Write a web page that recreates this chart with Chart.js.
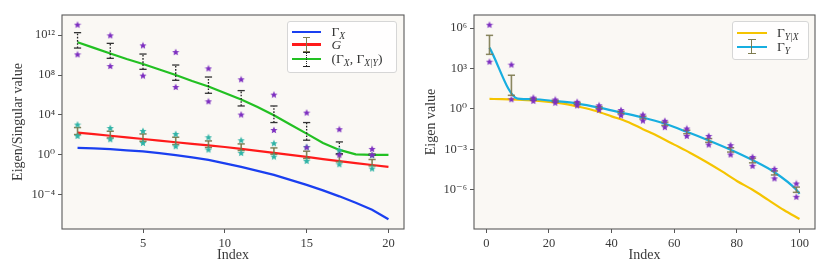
<!DOCTYPE html>
<html>
<head>
<meta charset="utf-8">
<script src="https://cdn.jsdelivr.net/npm/chart.js@4.4.1/dist/chart.umd.min.js"></script>
<style>
  html,body{margin:0;padding:0;background:#fff;}
  #wrap{position:relative;width:830px;height:277px;overflow:hidden;font-family:"Liberation Serif","DejaVu Serif",serif;color:#333;}
  canvas{position:absolute;top:0;}
  .leg{position:absolute;border:1px solid #d6d6d6;border-radius:3px;background:rgba(255,255,255,0.85);box-sizing:border-box;}
  .h{position:absolute;height:2.4px;}
  .t{position:absolute;font-size:13.5px;line-height:14px;white-space:nowrap;transform:translateY(-50%);}
  .t sub{font-size:9.5px;vertical-align:-3px;line-height:0;font-style:italic;}
  .t i{font-style:italic;}
  .eb{position:absolute;}
</style>
</head>
<body>
<div id="wrap">
  <canvas id="c1" width="415" height="277" style="left:0"></canvas>
  <canvas id="c2" width="415" height="277" style="left:415px"></canvas>
</div>
<script>
// ---------------- data (values stored as log10 of the plotted quantity) ----------------
// Left panel
const leftIndex = [1,2,3,4,5,6,7,8,9,10,11,12,13,14,15,16,17,18,19,20];
const gammaXLog = [0.70,0.66,0.57,0.46,0.35,0.18,-0.02,-0.25,-0.50,-0.85,-1.20,-1.60,-2.00,-2.50,-3.00,-3.55,-4.15,-4.80,-5.50,-6.45];
const gLog      = [2.24,2.08,1.92,1.76,1.59,1.43,1.27,1.11,0.95,0.79,0.60,0.40,0.20,0.00,-0.20,-0.42,-0.62,-0.82,-1.01,-1.20];
const jointLog  = [11.28,10.72,10.15,9.60,9.10,8.55,8.00,7.40,6.85,6.20,5.55,4.80,3.97,3.05,2.13,1.20,0.50,0.06,0.00,0.00];
const errIndexLeft = [1,3,5,7,9,11,13,15,17,19];
// G error bars (olive) and sample stars (teal)
const gErrHi   = [2.74,2.37,2.10,1.77,1.40,1.10,0.70,0.37,0.04,-0.46];
const gErrLo   = [2.04,1.70,1.37,1.04,0.74,0.44,0.07,-0.36,-0.70,-1.10];
const gStarHi  = [3.04,2.70,2.40,2.10,1.77,1.47,1.17,0.80,0.47,-0.03];
const gStarLo  = [1.90,1.57,1.20,0.87,0.54,0.20,-0.16,-0.60,-0.93,-1.36];
// joint error bars (black dotted) and sample stars (purple)
const jErrHi   = [12.24,11.17,10.10,9.00,7.80,6.44,4.90,3.24,1.30,0.08];
const jErrLo   = [10.70,9.67,8.57,7.47,6.17,4.90,3.24,1.47,0.12,-0.02];
const jStarHi  = [13.04,11.97,10.97,10.30,8.67,7.57,6.04,4.24,2.57,0.60];
const jStarLo  = [10.07,8.90,7.94,6.80,5.37,4.04,2.50,0.77,0.02,0.00];
const leftXTicks = [5,10,15,20];
const leftYTickExp = [-4,0,4,8,12];

// Right panel
const condIndex = [1,5,10,15,20,25,30,35,40,45,50,55,60,65,70,75,80,85,90,95,100];
const condLog   = [0.74,0.73,0.69,0.63,0.53,0.38,0.14,-0.15,-0.55,-0.95,-1.50,-2.05,-2.65,-3.25,-3.90,-4.60,-5.35,-6.00,-6.75,-7.50,-8.17];
const gammaYIndex = [1,10,15,22,29,36,43,50,57,64,71,78,85,92,99,100];
const gammaYLog   = [4.55,0.77,0.72,0.58,0.40,0.10,-0.27,-0.64,-1.10,-1.70,-2.34,-3.03,-3.80,-4.70,-6.00,-6.30];
const errIndexRight = [1,8,15,22,29,36,43,50,57,64,71,78,85,92,99];
const yErrHi  = [5.46,2.50,0.78,0.64,0.47,0.18,-0.18,-0.54,-0.98,-1.58,-2.20,-2.88,-3.65,-4.60,-5.80];
const yErrLo  = [4.05,1.01,0.66,0.52,0.33,0.02,-0.36,-0.74,-1.22,-1.84,-2.48,-3.20,-4.00,-4.90,-6.19];
const yStarHi = [6.25,3.29,0.84,0.70,0.53,0.27,-0.08,-0.42,-0.88,-1.45,-2.00,-2.69,-3.56,-4.45,-5.53];
const yStarLo = [3.51,0.72,0.60,0.46,0.26,-0.07,-0.47,-0.86,-1.35,-2.00,-2.64,-3.38,-4.22,-5.15,-6.52];
const rightXTicks = [0,20,40,60,80,100];
const rightYTickExp = [-6,-3,0,3,6];

// ---------------- helpers ----------------
const FONT = '"Liberation Serif","DejaVu Serif",serif';
const TXT = '#3a3a3a';
const SUP = {'0':'⁰','1':'¹','2':'²','3':'³','4':'⁴','5':'⁵','6':'⁶','7':'⁷','8':'⁸','9':'⁹','-':'⁻'};
const powLabel = e => '10' + String(e).split('').map(c=>SUP[c]).join('');
const pts = (xs, logs) => xs.map((x,k)=>({x, y: Math.pow(10, logs[k])}));
function errSegments(xs, hi, lo){
  const d=[]; xs.forEach((x,k)=>{ d.push({x,y:Math.pow(10,lo[k])},{x,y:Math.pow(10,hi[k])},{x,y:null}); }); return d;
}
function starPts(xs, hi, lo){
  const d=[]; xs.forEach((x,k)=>{ d.push({x,y:Math.pow(10,hi[k])},{x,y:Math.pow(10,lo[k])}); }); return d;
}
function starImage(color, size){
  const c=document.createElement('canvas'); c.width=c.height=size;
  const g=c.getContext('2d'); const R=size/2-0.2, r=R*0.45, m=size/2;
  g.beginPath();
  for(let k=0;k<10;k++){ const a=-Math.PI/2+k*Math.PI/5; const rr=k%2?r:R; g.lineTo(m+rr*Math.cos(a), m+0.3+rr*Math.sin(a)); }
  g.closePath(); g.fillStyle=color; g.fill(); return c;
}
const purpleStar = starImage('#7d2fc0', 8);
const tealStar = starImage('#2fb3a6', 8);

const frame = {
  id:'frame',
  beforeDatasetsDraw(chart){ const a=chart.chartArea, c=chart.ctx; c.save(); c.fillStyle='#faf8f4'; c.fillRect(a.left,a.top,a.right-a.left,a.bottom-a.top); c.restore(); },
  afterDraw(chart){ const a=chart.chartArea, c=chart.ctx; c.save(); c.strokeStyle='#5a5a5a'; c.lineWidth=1.1; c.strokeRect(a.left,a.top,a.right-a.left,a.bottom-a.top); c.restore(); }
};

function makeOptions(cfg){
  return {
    responsive:false, animation:false, devicePixelRatio:1,
    layout:{padding:{left:0,right:cfg.padRight,top:15,bottom:0}},
    plugins:{legend:{display:false}, tooltip:{enabled:false}},
    scales:{
      x:{type:'linear', min:cfg.xmin, max:cfg.xmax,
         afterFit:s=>{s.height=48;},
         afterBuildTicks:s=>{s.ticks=cfg.xticks.map(v=>({value:v}));},
         grid:{drawOnChartArea:false, drawTicks:true, tickLength:4, color:'#555', lineWidth:1},
         border:{display:false},
         ticks:{autoSkip:false, maxRotation:0, padding:3, color:TXT, font:{family:FONT,size:12.5}},
         title:{display:true, text:'Index', color:TXT, font:{family:FONT,size:14}, padding:{top:0,bottom:13}}
      },
      y:{type:'logarithmic', min:Math.pow(10,cfg.ymin), max:Math.pow(10,cfg.ymax),
         afterFit:s=>{s.width=cfg.yWidth;},
         afterBuildTicks:s=>{s.ticks=cfg.yexp.map(e=>({value:Math.pow(10,e)}));},
         grid:{drawOnChartArea:false, drawTicks:true, tickLength:4, color:'#555', lineWidth:1},
         border:{display:false},
         ticks:{autoSkip:false, padding:3, color:TXT, font:{family:FONT,size:12.5},
                callback:(v)=>powLabel(Math.round(Math.log10(v)))},
         title:{display:true, text:cfg.ytitle, color:TXT, font:{family:FONT,size:14}, padding:{top:cfg.titlePad,bottom:0}}
      }
    }
  };
}

// ---------------- left chart ----------------
new Chart(document.getElementById('c1'), {
  type:'line',
  data:{datasets:[
    {data:starPts(errIndexLeft,jStarHi,jStarLo), showLine:false, pointStyle:purpleStar, pointRadius:4},
    {data:starPts(errIndexLeft,gStarHi,gStarLo), showLine:false, pointStyle:tealStar, pointRadius:4},
    {data:errSegments(errIndexLeft,jErrHi,jErrLo), showLine:true, spanGaps:false, borderColor:'#222', borderWidth:1.3, borderDash:[1.6,1.6],
      pointStyle:'line', pointRadius:3.6, pointBorderColor:'#333', pointBorderWidth:1.3},
    {data:errSegments(errIndexLeft,gErrHi,gErrLo), showLine:true, spanGaps:false, borderColor:'rgba(120,118,72,0.9)', borderWidth:1.6,
      pointStyle:'line', pointRadius:3.6, pointBorderColor:'rgba(120,118,72,0.9)', pointBorderWidth:1.5},
    {data:pts(leftIndex,jointLog), borderColor:'#22c022', borderWidth:2.2, pointRadius:0},
    {data:pts(leftIndex,gLog), borderColor:'#ff1a1a', borderWidth:2.2, pointRadius:0},
    {data:pts(leftIndex,gammaXLog), borderColor:'#1a3ff0', borderWidth:2.2, pointRadius:0}
  ]},
  options:makeOptions({padRight:11, xmin:0.05, xmax:20.95, xticks:leftXTicks, ymin:-7.42, ymax:14.01, yexp:leftYTickExp,
    yWidth:62, ytitle:'Eigen/Singular value', titlePad:10}),
  plugins:[frame]
});

// ---------------- right chart ----------------
new Chart(document.getElementById('c2'), {
  type:'line',
  data:{datasets:[
    {data:starPts(errIndexRight,yStarHi,yStarLo), showLine:false, pointStyle:purpleStar, pointRadius:4},
    {data:errSegments(errIndexRight,yErrHi,yErrLo), showLine:true, spanGaps:false, borderColor:'rgba(125,122,80,0.9)', borderWidth:1.6,
      pointStyle:'line', pointRadius:3.6, pointBorderColor:'rgba(125,122,80,0.9)', pointBorderWidth:1.5},
    {data:pts(gammaYIndex,gammaYLog), borderColor:'#17aee0', borderWidth:2.2, pointRadius:0, cubicInterpolationMode:'monotone'},
    {data:pts(condIndex,condLog), borderColor:'#f5c400', borderWidth:2.2, pointRadius:0, cubicInterpolationMode:'monotone'}
  ]},
  options:makeOptions({padRight:15, xmin:-3.95, xmax:104.95, xticks:rightXTicks, ymin:-8.91, ymax:6.97, yexp:rightYTickExp,
    yWidth:59, ytitle:'Eigen value', titlePad:8}),
  plugins:[frame]
});

// ---------------- legends (HTML text with sub-scripts) ----------------
const leftLegend = [
  {label:'Γ<sub>X</sub>', color:'#1a3ff0', bar:null},
  {label:'<i>G</i>', color:'#ff1a1a', bar:'solid'},
  {label:'(Γ<sub>X</sub>, Γ<sub>X|Y</sub>)', color:'#22c022', bar:'dotted'}
];
const rightLegend = [
  {label:'Γ<sub>Y|X</sub>', color:'#f5c400', bar:null},
  {label:'Γ<sub>Y</sub>', color:'#17aee0', bar:'solid'}
];
const wrap = document.getElementById('wrap');
function el(cls, style, html){ const d=document.createElement('div'); d.className=cls; Object.assign(d.style, style); if(html) d.innerHTML=html; wrap.appendChild(d); return d; }
function buildLegend(box, entries, rows, hx0, hx1, tx){
  el('leg', {left:box[0]+'px', top:box[1]+'px', width:box[2]+'px', height:box[3]+'px'});
  entries.forEach((e,k)=>{
    const y=rows[k];
    el('h', {left:hx0+'px', top:(y-1.2)+'px', width:(hx1-hx0)+'px', background:e.color});
    if(e.bar){
      const cx=(hx0+hx1)/2, col = e.bar==='solid' ? 'rgba(120,118,72,0.95)' : '#222';
      el('eb', {left:(cx-0.75)+'px', top:(y-7)+'px', height:'14px', width:'0', borderLeft:'1.5px '+(e.bar==='solid'?'solid':'dotted')+' '+col});
      el('eb', {left:(cx-3.6)+'px', top:(y-7.6)+'px', width:'7.2px', height:'1.4px', background:col});
      el('eb', {left:(cx-3.6)+'px', top:(y+6.4)+'px', width:'7.2px', height:'1.4px', background:col});
    }
    el('t', {left:tx+'px', top:y+'px'}, e.label);
  });
}
buildLegend([287,21,110,52], leftLegend, [31.7,44.5,59.3], 291.7, 321.3, 331.5);
buildLegend([732,21,77,39], rightLegend, [33.3,46.7], 737.3, 766.7, 777);
</script>
</body>
</html>
